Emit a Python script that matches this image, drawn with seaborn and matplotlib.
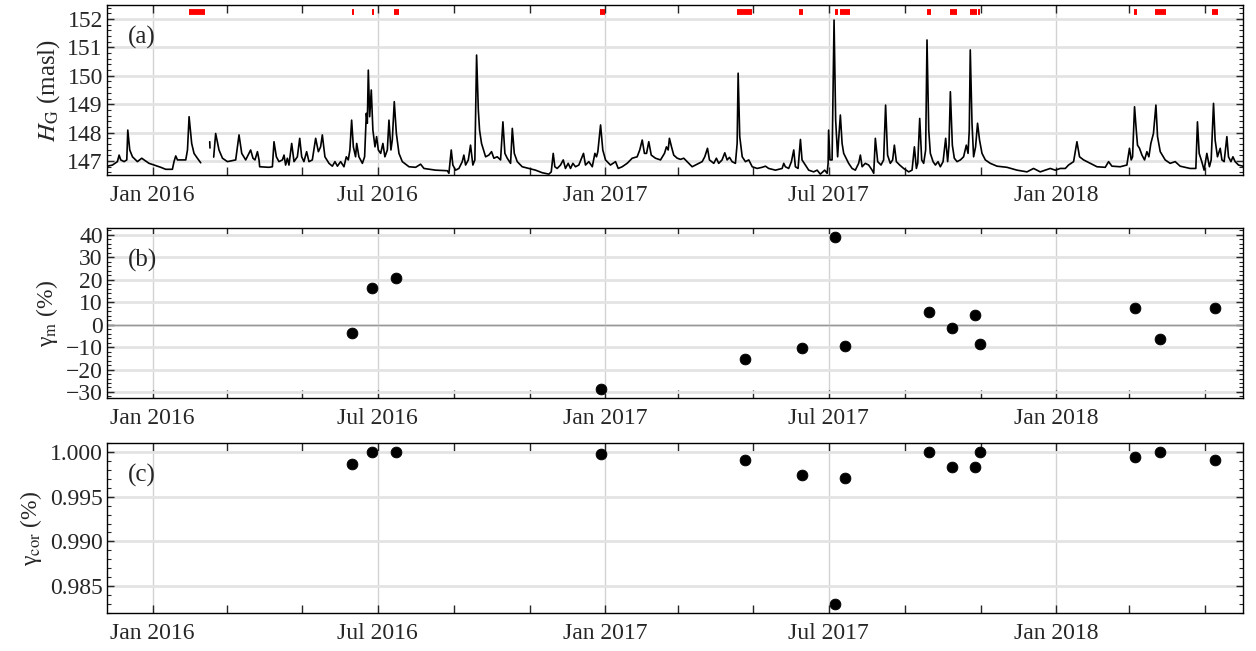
import numpy as np
import pandas as pd
import matplotlib
matplotlib.use("Agg")
import matplotlib.pyplot as plt
import matplotlib.dates as mdates
from matplotlib.ticker import MultipleLocator
import seaborn as sns

# groundwater level H_G: days since 2016-01-01, level (masl); nan = gap in record
hg_day = [-36.6, -32.6, -28.6, -27.2, -25.9, -23.2, -21.0, -20.2, -18.6, -16.4, -12.4, -8.9, -7.0, -3.0,
          1.1, 6.5, 10.5, 15.9, 17.2, 18.6, 20.0, 26.7, 28.1, 29.4, 31.5, 33.4, 36.1, 38.8,
          42.0, 46.1, 46.3, 47.5,
          49.3, 50.9, 53.6, 56.4, 60.4, 67.1, 69.8, 72.0, 75.2, 79.2, 81.1, 82.7, 84.7, 86.0, 86.5,
          94.0, 96.8, 98.1, 100.0, 102.1, 104.9, 106.2, 107.5, 108.9, 110.2, 112.4, 114.3, 117.0, 118.9,
          120.5, 122.3, 124.5, 126.4, 129.1, 131.8, 134.0, 135.8, 137.2, 139.3, 142.6, 145.3, 147.4,
          149.4, 152.0, 154.7, 156.6, 158.2, 159.5, 160.9, 162.3, 164.1, 165.0, 166.8, 169.6, 171.4,
          172.8, 173.6, 174.4, 175.5, 176.8, 178.1, 179.8, 181.1, 182.5, 184.4, 186.2, 187.8, 189.8,
          191.1, 192.7, 193.8, 195.4, 197.1, 199.2, 201.9, 207.3, 212.7, 216.7, 219.4, 228.8, 238.3,
          239.6, 241.5, 242.8, 245.0, 247.7, 250.4, 251.7, 253.1, 255.3, 257.1, 259.0, 260.6, 262.0,
          263.4, 264.4, 266.0, 269.3, 271.9, 274.1, 276.0, 278.7, 281.4, 283.3, 284.9, 286.8, 289.5,
          290.9, 292.5, 294.9, 298.9, 304.3, 309.7, 315.1, 320.5, 322.4, 324.0, 325.3, 327.2, 329.9,
          332.1, 333.9, 336.1, 338.0, 339.9, 342.0, 344.7, 348.5, 350.1, 352.8, 355.6, 357.7, 359.0,
          360.1, 362.3, 364.1, 366.3, 370.3, 374.4, 376.6, 379.8, 383.8, 387.9, 391.9, 394.0, 396.0,
          397.8, 399.5, 401.3, 403.3, 406.7, 410.8, 414.0, 415.6, 417.0, 418.0, 419.7, 421.5, 424.3,
          427.0, 429.6, 433.7, 436.4, 439.1, 444.5, 446.6, 448.8, 450.4, 453.9, 456.0, 457.9, 460.6,
          462.8, 464.7, 466.6, 468.7, 471.4, 472.8, 473.6, 474.9, 476.9, 479.5, 482.2, 485.0, 489.0,
          493.0, 495.7, 498.3, 503.8, 509.2, 510.5, 511.8, 514.5, 516.7, 518.6, 519.9, 522.1, 524.0,
          525.3, 528.0, 530.7, 534.7, 537.5, 540.1, 543.6, 545.6, 546.4, 546.8, 547.9, 549.6, 551.2,
          552.5, 554.1, 554.9, 556.3, 557.7, 559.0, 560.9, 563.0, 565.8, 568.4, 571.1, 572.5, 573.9,
          576.5, 579.2, 582.0, 583.3, 584.6, 586.5, 589.2, 591.3, 592.9, 594.5, 596.7, 598.6, 600.0,
          601.6, 604.3, 607.5, 611.6, 614.3, 616.2, 617.8, 618.9, 620.5, 622.1, 623.7, 625.3, 626.4,
          627.8, 629.1, 631.3, 633.2, 635.3, 637.2, 639.4, 641.5, 643.1, 644.2, 645.3, 646.9, 648.5,
          650.7, 653.4, 656.0, 658.2, 659.6, 660.6, 661.4, 662.8, 664.1, 665.7, 667.3, 668.9, 670.9,
          673.6, 677.6, 683.0, 691.1, 699.2, 707.3, 712.6, 718.0, 726.1, 730.2, 734.2, 738.3, 740.9,
          745.0, 747.7, 749.8, 753.1, 758.5, 763.9, 770.6, 773.3, 776.0, 782.7, 788.1, 790.2, 791.6,
          792.7, 794.3, 795.7, 796.7, 798.3, 800.3, 802.4, 804.3, 805.9, 807.5, 809.6, 811.6, 812.9,
          815.1, 819.1, 823.1, 827.2, 831.2, 839.3, 843.9, 845.2, 846.6, 848.7, 850.6, 852.8, 854.9,
          856.3, 858.2, 859.5, 861.4, 863.6, 865.0, 866.8, 869.0, 870.3, 872.3, 873.9, 875.7, 878.4,
          883.8]
hg_val = [146.82, 146.86, 146.98, 147.21, 147.04, 146.98, 147.04, 148.09, 147.39, 147.15, 146.98, 147.10, 147.04, 146.92,
          146.86, 146.78, 146.71, 146.71, 146.98, 147.18, 147.04, 147.04, 147.39, 148.56, 147.62, 147.27, 147.10, 146.94,
          np.nan, 147.68, 147.46, np.nan,
          147.14, 147.97, 147.39, 147.10, 146.98, 147.04, 147.92, 147.27, 147.04, 147.39, 147.10, 147.04, 147.33, 147.04, 146.80,
          146.78, 146.80, 147.68, 147.15, 146.98, 147.04, 147.21, 146.86, 147.10, 146.86, 147.62, 146.98, 147.15, 147.80,
          147.15, 146.98, 147.33, 146.98, 147.04, 147.80, 147.33, 147.50, 147.92, 147.15, 146.92, 146.82, 146.98,
          146.82, 146.98, 146.80, 147.15, 147.04, 147.39, 148.44, 147.50, 147.15, 147.62, 147.15, 146.92, 147.15,
          148.68, 148.33, 150.20, 148.56, 149.50, 148.09, 147.50, 147.86, 147.39, 147.27, 147.62, 147.15, 147.39,
          148.44, 147.39, 147.74, 149.09, 147.97, 147.27, 146.98, 146.80, 146.78, 146.89, 146.74, 146.68, 146.66,
          146.57, 147.39, 146.86, 146.68, 146.74, 146.98, 147.21, 146.86, 147.04, 147.56, 146.86, 147.04, 150.73,
          148.80, 148.09, 147.62, 147.15, 147.21, 147.33, 147.10, 147.15, 147.04, 148.38, 147.27, 147.10, 146.92,
          148.15, 147.27, 146.98, 146.80, 146.74, 146.68, 146.59, 146.54, 146.62, 147.27, 146.80, 146.74, 146.86,
          147.04, 146.74, 146.92, 146.74, 146.92, 146.80, 146.86, 147.27, 146.86, 146.98, 146.80, 147.27, 147.15,
          147.33, 148.27, 147.39, 147.04, 146.86, 146.98, 146.74, 146.80, 146.92, 147.10, 147.15, 147.39, 147.74,
          147.27, 147.27, 147.68, 147.21, 147.10, 147.04, 147.27, 147.50, 147.39, 147.80, 147.50, 147.21, 147.10,
          147.06, 147.10, 146.92, 146.80, 146.86, 146.98, 147.15, 147.45, 147.04, 146.92, 147.10, 146.92, 147.04,
          147.29, 147.04, 147.13, 146.98, 146.92, 147.62, 150.09, 147.86, 147.15, 146.98, 147.04, 146.80, 146.74,
          146.78, 146.82, 146.74, 146.68, 146.74, 146.92, 146.80, 146.74, 146.98, 147.39, 146.80, 146.74, 147.76,
          147.04, 146.86, 146.68, 146.62, 146.68, 146.54, 146.68, 146.57, 146.92, 148.09, 147.04, 147.04, 151.96,
          148.44, 147.15, 147.74, 148.62, 147.62, 147.27, 147.10, 146.92, 146.74, 146.68, 146.92, 147.21, 146.80,
          146.92, 146.86, 146.68, 146.57, 147.80, 146.98, 146.86, 147.04, 148.97, 147.21, 146.92, 147.04, 147.56,
          146.98, 146.86, 146.74, 146.62, 146.68, 147.50, 146.74, 146.92, 148.50, 147.04, 146.92, 147.39, 151.26,
          148.09, 147.27, 146.98, 146.86, 146.98, 146.80, 146.98, 147.80, 146.98, 147.56, 149.44, 147.56, 147.10,
          146.98, 147.04, 147.15, 147.56, 147.27, 148.09, 150.91, 148.33, 147.15, 147.50, 148.33, 147.74, 147.27,
          147.04, 146.92, 146.82, 146.78, 146.68, 146.62, 146.74, 146.62, 146.74, 146.68, 146.74, 146.74, 146.86,
          146.98, 147.68, 147.15, 147.04, 146.92, 146.80, 146.78, 146.98, 146.82, 146.80, 146.86, 147.45, 147.04,
          147.15, 148.91, 148.09, 147.56, 147.45, 147.21, 147.04, 147.33, 147.15, 147.62, 147.97, 148.97, 147.86,
          147.33, 147.04, 146.92, 146.98, 146.82, 146.74, 146.74, 148.38, 147.27, 146.98, 146.68, 147.27, 146.80,
          147.04, 149.03, 147.74, 147.15, 147.45, 147.04, 146.98, 147.86, 147.15, 146.98, 147.15, 146.98, 146.86,
          146.80]

# event periods (red bars in panel a)
event_start = ["2016-01-30", "2016-06-10", "2016-06-26", "2016-07-14", "2016-12-28", "2017-04-18",
               "2017-06-07", "2017-07-06", "2017-07-10", "2017-09-18", "2017-10-07", "2017-10-23",
               "2017-10-30", "2018-03-05", "2018-03-22", "2018-05-07"]
event_end = ["2016-02-12", "2016-06-12", "2016-06-28", "2016-07-18", "2017-01-01", "2017-04-30",
             "2017-06-10", "2017-07-08", "2017-07-18", "2017-09-22", "2017-10-13", "2017-10-29",
             "2017-10-31", "2018-03-07", "2018-03-31", "2018-05-12"]

# per-event errors
ev_date = ["2016-06-10", "2016-06-26", "2016-07-16", "2016-12-29", "2017-04-24", "2017-06-09",
           "2017-07-06", "2017-07-14", "2017-09-20", "2017-10-09", "2017-10-27", "2017-10-31",
           "2018-03-06", "2018-03-26", "2018-05-09"]
gamma_m = [-3.6, 16.4, 20.9, -28.9, -15.1, -10.2, 39.1, -9.3, 5.8, -1.3, 4.4, -8.4, 7.6, -6.2, 7.6]
gamma_cor = [0.9987, 0.99995, 1.0000, 0.9998, 0.9991, 0.9974, 0.9830, 0.9971, 1.0000,
             0.9983, 0.9983, 1.0000, 0.9994, 1.0000, 0.9991]

sns.set_style("ticks")
plt.rcParams["font.family"] = ["Liberation Serif", "DejaVu Serif"]
plt.rcParams["mathtext.fontset"] = "stix"
plt.rcParams["font.size"] = 17
plt.rcParams["xtick.direction"] = "in"
plt.rcParams["ytick.direction"] = "in"
plt.rcParams["xtick.top"] = True
plt.rcParams["ytick.right"] = True

t0 = pd.Timestamp("2016-01-01")
hg = pd.DataFrame({"date": t0 + pd.to_timedelta(hg_day, unit="D"), "hg": hg_val})
hg["seg"] = hg["hg"].isna().cumsum()
hg = hg.dropna()

ev = pd.DataFrame({"date": pd.to_datetime(ev_date), "gm": gamma_m, "gc": gamma_cor})

fig = plt.figure(figsize=(12.56, 6.51), dpi=100)
left, width = 0.0852, 0.9044
ax_a = fig.add_axes([left, 0.7312, width, 0.2611])
ax_b = fig.add_axes([left, 0.3886, width, 0.2612])
ax_c = fig.add_axes([left, 0.0584, width, 0.2611])

xlim = (pd.Timestamp("2015-11-25"), pd.Timestamp("2018-06-01"))

sns.lineplot(data=hg, x="date", y="hg", units="seg", estimator=None, color="k", lw=1.2, ax=ax_a)
ax_a.hlines([152.25] * len(event_start), pd.to_datetime(event_start), pd.to_datetime(event_end),
            color="#ff0000", lw=4.2, zorder=5)
ax_a.set_ylim(146.51, 152.49)
ax_a.yaxis.set_major_locator(MultipleLocator(1))
ax_a.yaxis.set_minor_locator(MultipleLocator(0.2))
ax_a.set_ylabel(r"$H_{\mathrm{G}}$ (masl)", fontsize=18)
ax_a.text(0.018, 0.81, "(a)", transform=ax_a.transAxes, fontsize=18, va="center")

sns.scatterplot(data=ev, x="date", y="gm", color="k", s=60, edgecolor="k", ax=ax_b, zorder=5)
ax_b.axhline(0, color="#999999", lw=1, zorder=1)
ax_b.set_ylim(-32.7, 43.1)
ax_b.yaxis.set_major_locator(MultipleLocator(10))
ax_b.yaxis.set_minor_locator(MultipleLocator(2))
ax_b.set_ylabel("γ$_{\\mathrm{m}}$ (%)", fontsize=17)
ax_b.text(0.018, 0.81, "(b)", transform=ax_b.transAxes, fontsize=18, va="center")

sns.scatterplot(data=ev, x="date", y="gc", color="k", s=60, edgecolor="k", ax=ax_c, zorder=5)
ax_c.set_ylim(0.982, 1.001)
ax_c.yaxis.set_major_locator(MultipleLocator(0.005))
ax_c.yaxis.set_minor_locator(MultipleLocator(0.001))
ax_c.yaxis.set_major_formatter(matplotlib.ticker.FormatStrFormatter("%.3f"))
ax_c.set_ylabel("γ$_{\\mathrm{cor}}$ (%)", fontsize=17)
ax_c.text(0.018, 0.81, "(c)", transform=ax_c.transAxes, fontsize=18, va="center")

for ax in (ax_a, ax_b, ax_c):
    ax.set_xlim(*xlim)
    ax.set_xlabel("")
    ax.xaxis.set_major_locator(mdates.MonthLocator(bymonth=[1, 7]))
    ax.xaxis.set_minor_locator(mdates.MonthLocator(bymonth=[3, 5, 9, 11]))
    ax.xaxis.set_major_formatter(mdates.DateFormatter("%b %Y"))
    ax.grid(axis="y", which="major", color="#e3e3e3", lw=2)
    ax.grid(axis="x", which="major", color="#d2d2d2", lw=1)
    ax.set_axisbelow(True)
    ax.tick_params(axis="x", which="both", length=6, width=1, pad=7, labelsize=17)
    ax.tick_params(axis="y", which="major", length=5, width=1, labelsize=17, pad=3)
    ax.tick_params(axis="y", which="minor", length=3, width=0.8)
    for sp in ax.spines.values():
        sp.set_color("k")
        sp.set_linewidth(1)

fig.savefig("out.png", dpi=100)
